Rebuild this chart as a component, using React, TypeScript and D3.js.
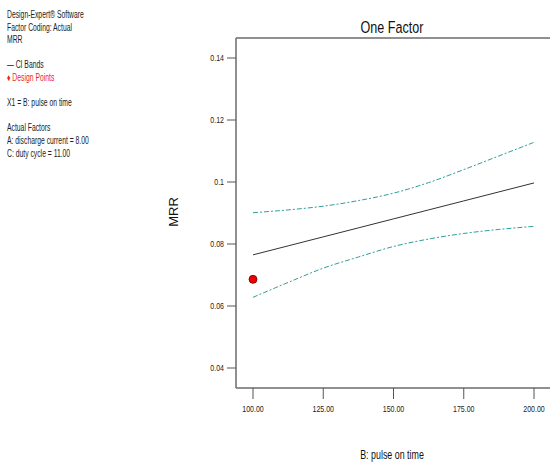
import React from 'react';
import * as d3 from 'd3';

const xValues = [100, 112.5, 125, 137.5, 150, 162.5, 175, 187.5, 200];
const fitValues = [0.0765, 0.0794, 0.0823, 0.0852, 0.0881, 0.091, 0.0939, 0.0968, 0.0997];
const upperValues = [0.0901, 0.091, 0.0922, 0.094, 0.0964, 0.0998, 0.104, 0.1084, 0.1128];
const lowerValues = [0.0628, 0.0676, 0.0722, 0.0758, 0.0792, 0.0816, 0.0834, 0.0847, 0.0857];
const designPoints = [{ x: 100, y: 0.0686 }];
const xTicks = [100, 125, 150, 175, 200];
const yTicks = [0.04, 0.06, 0.08, 0.1, 0.12, 0.14];
const yTickLabels = ['0.04', '0.06', '0.08', '0.1', '0.12', '0.14'];
const notes = [
  'Design-Expert® Software',
  'Factor Coding: Actual',
  'MRR',
  '',
  '— CI Bands',
  '♦ Design Points',
  '',
  'X1 = B: pulse on time',
  '',
  'Actual Factors',
  'A: discharge current = 8.00',
  'C: duty cycle = 11.00',
];

const font = '"Liberation Sans", Arial, sans-serif';

// condensed text, like the narrow font of the original
function Narrow({ x, y, sx, anchor = 'start', size, fill = '#111', children }: any) {
  return (
    <text
      transform={`translate(${x},${y}) scale(${sx},1)`}
      textAnchor={anchor}
      fontFamily={font}
      fontSize={size}
      fill={fill}
    >
      {children}
    </text>
  );
}

export default function App() {
  const left = 236;
  const top = 38;
  const bottom = 388;
  const right = 550;

  const x = d3.scaleLinear().domain([100, 200]).range([253, 534]);
  const y = d3.scaleLinear().domain([0.04, 0.14]).range([368, 58]);

  const line = d3
    .line<number>()
    .x((_, i) => x(xValues[i]))
    .y((d) => y(d))
    .curve(d3.curveMonotoneX);

  return (
    <svg width={550} height={463} style={{ position: 'absolute', left: 0, top: 0, background: '#fff' }}>
      {/* notes at top left */}
      {notes.map((t, i) =>
        t ? (
          <Narrow key={i} x={7} y={18 + i * 12.6} sx={0.68} size={10} fill={i === 5 ? '#ee1c25' : '#222'}>
            {t}
          </Narrow>
        ) : null
      )}

      {/* title */}
      <Narrow x={392} y={33} sx={0.74} anchor="middle" size={17}>
        One Factor
      </Narrow>

      {/* frame */}
      <g stroke="#6b6b6b" strokeWidth={1.5} fill="none">
        <line x1={left} y1={top} x2={right} y2={top} />
        <line x1={left} y1={top} x2={left} y2={bottom} />
        <line x1={left} y1={bottom} x2={right} y2={bottom} />
      </g>

      {/* y ticks */}
      {yTicks.map((t, i) => (
        <g key={t}>
          <line x1={227} x2={left} y1={y(t)} y2={y(t)} stroke="#555" />
          <Narrow x={224} y={y(t) + 3} sx={0.78} anchor="end" size={9} fill="#222">
            {yTickLabels[i]}
          </Narrow>
        </g>
      ))}

      {/* x ticks */}
      {xTicks.map((t) => (
        <g key={t}>
          <line x1={x(t)} x2={x(t)} y1={bottom} y2={399} stroke="#555" />
          <Narrow x={x(t)} y={412} sx={0.78} anchor="middle" size={9} fill="#222">
            {t.toFixed(2)}
          </Narrow>
        </g>
      ))}

      {/* axis titles */}
      <Narrow x={392} y={459} sx={0.74} anchor="middle" size={12}>
        B: pulse on time
      </Narrow>
      <text
        transform="translate(178,212) rotate(-90)"
        textAnchor="middle"
        fontFamily={font}
        fontSize={13}
        fill="#111"
      >
        MRR
      </text>

      {/* CI bands */}
      <path d={line(upperValues) ?? ''} fill="none" stroke="#2f9e9e" strokeWidth={1} strokeDasharray="5,2,2,2" />
      <path d={line(lowerValues) ?? ''} fill="none" stroke="#2f9e9e" strokeWidth={1} strokeDasharray="5,2,2,2" />

      {/* fitted line */}
      <path d={line(fitValues) ?? ''} fill="none" stroke="#333" strokeWidth={1} />

      {/* design points */}
      {designPoints.map((p, i) => (
        <circle key={i} cx={x(p.x)} cy={y(p.y)} r={4} fill="#ee0000" stroke="#6b0000" strokeWidth={0.8} />
      ))}
    </svg>
  );
}
